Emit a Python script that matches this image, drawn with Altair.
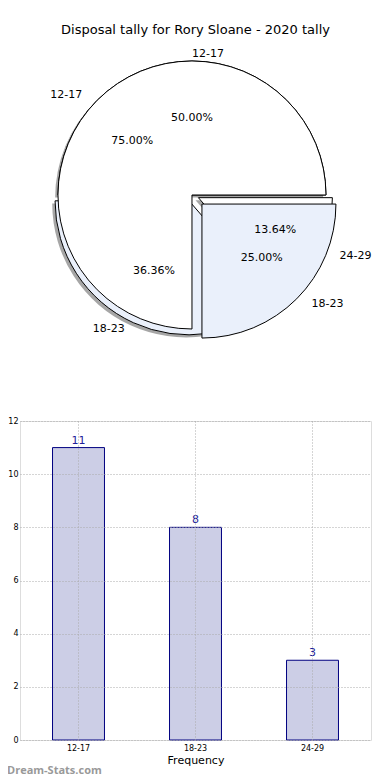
import altair as alt
import pandas as pd

# ---------------- data ----------------
chart_title = "Disposal tally for Rory Sloane - 2020 tally"

pie_a_labels = ["12-17", "18-23"]
pie_a_values = [75.0, 25.0]
pie_a_explode = [0.0, 0.1]
pie_a_colors = ["#ffffff", "#eaf0fb"]

pie_b_labels = ["12-17", "18-23", "24-29"]
pie_b_values = [11, 8, 3]
pie_b_explode = [0.0, 0.05, 0.05]
pie_b_colors = ["#ffffff", "#eaf0fb", "#ffffff"]

bar_categories = ["12-17", "18-23", "24-29"]
bar_values = [11, 8, 3]
y_ticks = [0, 2, 4, 6, 8, 10, 12]

FONT = "DejaVu Sans"

rows = []
for i, (l, v, e, c) in enumerate(zip(pie_b_labels, pie_b_values, pie_b_explode, pie_b_colors)):
    rows.append(dict(pie="B", order=i, label=l, value=v, explode=e, color=c))
for i, (l, v, e, c) in enumerate(zip(pie_a_labels, pie_a_values, pie_a_explode, pie_a_colors)):
    rows.append(dict(pie="A", order=i, label=l, value=v, explode=e, color=c))
pie_df = pd.DataFrame(rows)

bar_df = pd.DataFrame({"cat": bar_categories, "val": bar_values})

# ---------------- pie panel ----------------
PW, PH = 351, 330
xs = alt.Scale(domain=[-1.220, 1.270])
ys = alt.Scale(domain=[-1.414, 1.164])
theta_scale = alt.Scale(domain=[0, 1], range=[1.5708, -4.7124])

base = (
    alt.Chart(pie_df)
    .transform_joinaggregate(total="sum(value)", groupby=["pie"])
    .transform_window(cum="sum(value)", groupby=["pie"], sort=[alt.SortField("order")], frame=[None, 0])
    .transform_calculate(f1="datum.cum / datum.total", f0="(datum.cum - datum.value) / datum.total")
    .transform_calculate(ang="PI * (datum.f0 + datum.f1)")
    .transform_calculate(
        cx="datum.explode * cos(datum.ang)",
        cy="datum.explode * sin(datum.ang)",
        sx="datum.explode * cos(datum.ang) - 0.02",
        sy="datum.explode * sin(datum.ang) - 0.02",
        lx="(datum.explode + 1.1) * cos(datum.ang)",
        ly="(datum.explode + 1.1) * sin(datum.ang)",
        px="(datum.explode + 0.6) * cos(datum.ang)",
        py="(datum.explode + 0.6) * sin(datum.ang)",
        pct="format(100 * datum.value / datum.total, '.2f') + '%'",
        side="cos(datum.ang) > 0 ? 'L' : 'R'",
    )
)

R = 134


def shadow(p):
    return base.transform_filter(f"datum.pie == '{p}'").mark_arc(
        radius=R, fill="#4d4d4d", opacity=0.5, strokeWidth=0
    ).encode(
        x=alt.X("sx:Q", scale=xs, axis=None),
        y=alt.Y("sy:Q", scale=ys, axis=None),
        theta=alt.Theta("f0:Q", scale=theta_scale, stack=None),
        theta2="f1:Q",
    )


def wedges(p):
    return base.transform_filter(f"datum.pie == '{p}'").mark_arc(
        radius=R, stroke="#000000", strokeWidth=1
    ).encode(
        x=alt.X("cx:Q", scale=xs, axis=None),
        y=alt.Y("cy:Q", scale=ys, axis=None),
        theta=alt.Theta("f0:Q", scale=theta_scale, stack=None),
        theta2="f1:Q",
        fill=alt.Fill("color:N", scale=None),
    )


labels_left = base.transform_filter("datum.side == 'L'").mark_text(
    align="left", baseline="middle", fontSize=11, font=FONT, color="#000000"
).encode(x=alt.X("lx:Q", scale=xs, axis=None), y=alt.Y("ly:Q", scale=ys, axis=None), text="label:N")

labels_right = base.transform_filter("datum.side == 'R'").mark_text(
    align="right", baseline="middle", fontSize=11, font=FONT, color="#000000"
).encode(x=alt.X("lx:Q", scale=xs, axis=None), y=alt.Y("ly:Q", scale=ys, axis=None), text="label:N")

pcts = base.mark_text(
    align="center", baseline="middle", fontSize=11, font=FONT, color="#000000"
).encode(x=alt.X("px:Q", scale=xs, axis=None), y=alt.Y("py:Q", scale=ys, axis=None), text="pct:N")

pie = alt.layer(
    shadow("B"), wedges("B"), wedges("A"), labels_left, labels_right, pcts
).properties(
    width=PW,
    height=PH,
    view=alt.ViewBackground(stroke=None),
    title=alt.TitleParams(
        chart_title, anchor="middle", fontSize=13, font=FONT, fontWeight="normal",
        color="#000000", offset=9,
    ),
)

# ---------------- bar panel ----------------
bx = alt.X(
    "cat:N",
    sort=bar_categories,
    scale=alt.Scale(paddingInner=0.556, paddingOuter=0.278),
    axis=alt.Axis(
        title="Frequency", labelAngle=0, labelFontSize=8, labelFont=FONT, labelPadding=4,
        titleFontSize=11, titleFont=FONT, titleFontWeight="normal", titlePadding=2,
        ticks=False, domain=False, grid=True, bandPosition=0.5, zindex=1,
        gridDash=[1, 2], gridColor="#aaaaaa", labelColor="#000000", titleColor="#000000",
    ),
)
by = alt.Y(
    "val:Q",
    scale=alt.Scale(domain=[0, 12], nice=False),
    axis=alt.Axis(
        title="Disposal Tally", values=y_ticks, labelFontSize=8, labelFont=FONT, labelPadding=2,
        titleFontSize=10, titleFont=FONT, titleFontWeight="normal", titleX=-18, zindex=1,
        ticks=False, domain=False, grid=True, gridDash=[1, 2], gridColor="#aaaaaa",
        labelColor="#000000", titleColor="#000000",
    ),
)

bars = alt.Chart(bar_df).mark_bar(fill="#cccee6", stroke="#000080", strokeWidth=1).encode(x=bx, y=by)
bar_text = alt.Chart(bar_df).mark_text(
    dy=-7, fontSize=11, font=FONT, color="#1f1f99", baseline="middle"
).encode(x=alt.X("cat:N", sort=bar_categories), y="val:Q", text="val:Q")

bar = alt.layer(bars, bar_text).properties(
    width=351,
    height=319,
    title=alt.TitleParams(
        "Dream-Stats.com", orient="bottom", anchor="start", fontSize=11, font="Open Sans",
        fontWeight="bold", color="#999999", offset=0, dx=15,
    ),
)

chart = alt.vconcat(pie, bar, spacing=40).properties(
    padding={"left": -17, "top": 16, "right": 0, "bottom": 0}
).configure_view(stroke="#000000", strokeWidth=1).configure(font=FONT)

chart.save("out.html", embed_options={"renderer": "svg", "actions": False})
